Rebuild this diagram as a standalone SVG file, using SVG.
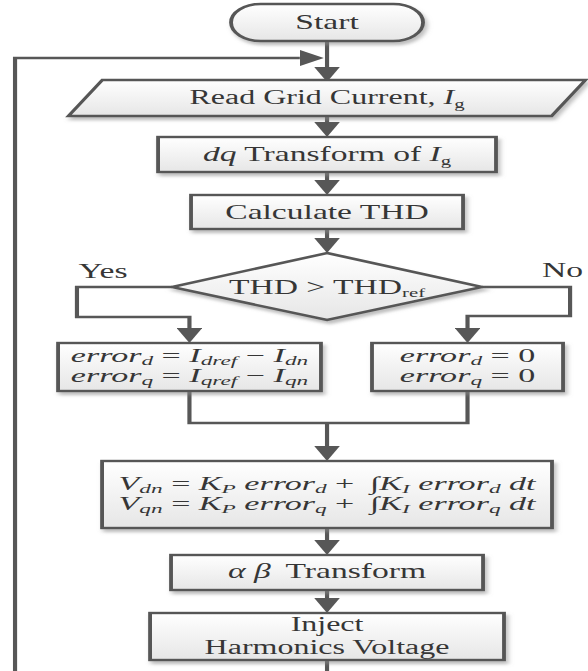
<svg xmlns="http://www.w3.org/2000/svg" width="588" height="671" viewBox="0 0 588 671">
  <style>
    .box { fill: url(#boxFill); stroke: #575757; stroke-width: 2.4; filter: url(#shadow); }
    .wire { fill: none; stroke: #575757; stroke-width: 2.6; }
    .arrow { marker-end: url(#head); }
    text { font-family: "Liberation Serif", "Times New Roman", serif; font-size: 21px; fill: #363636; text-anchor: middle; }
    .math { font-size: 19px; }
    .it { font-style: italic; }
    .sub { font-size: 13px; }
  </style>
  <defs>
    <linearGradient id="boxFill" x1="0" y1="0" x2="0" y2="1">
      <stop offset="0" stop-color="#ffffff"/>
      <stop offset="1" stop-color="#e6e6e6"/>
    </linearGradient>
    <filter id="shadow" x="-10%" y="-15%" width="125%" height="145%">
      <feDropShadow dx="1.6" dy="3" stdDeviation="1.5" flood-color="#8a8a8a" flood-opacity="0.55"/>
    </filter>
    <marker id="head" viewBox="0 0 15 16" refX="0" refY="8" markerWidth="15" markerHeight="16" markerUnits="userSpaceOnUse" orient="auto">
      <path d="M0,0 L15,8 L0,16 z" fill="#575757"/>
    </marker>
  </defs>

  <rect width="588" height="671" fill="#ffffff"/>

  <!-- drawing is laid out in a horizontally compressed frame, widened by 1.6 -->
  <g transform="scale(1.6 1)">

    <g id="connectors">
      <path class="wire arrow" d="M9.4,671 V58 H187.4"/>
      <path class="wire arrow" d="M204.4,40 V67"/>
      <path class="wire arrow" d="M204.4,116 V122"/>
      <path class="wire arrow" d="M204.4,172 V180"/>
      <path class="wire arrow" d="M204.4,229 V238"/>
      <path class="wire arrow" d="M107.4,287 H48.1 V317 H118.4 V328"/>
      <path class="wire arrow" d="M301.4,287 H356.3 V316 H292.2 V328"/>
      <path class="wire" d="M118.4,391 V423 H292.2 V391"/>
      <path class="wire arrow" d="M204.4,423 V446"/>
      <path class="wire arrow" d="M204.4,528 V540"/>
      <path class="wire arrow" d="M204.4,590 V598"/>
      <path class="wire" d="M204.4,660 V671"/>
    </g>

    <g id="start">
      <rect class="box" x="144.4" y="4" width="120" height="37" rx="18.5" ry="18.5"/>
      <text x="204.4" y="29">Start</text>
    </g>

    <g id="read-current">
      <polygon class="box" points="64,80 365.9,80 344.7,116 42.8,116"/>
      <text x="204.4" y="104" style="font-size:20px">Read Grid Current, <tspan class="it">I</tspan><tspan class="sub" dy="4">g</tspan></text>
    </g>

    <g id="dq-transform">
      <rect class="box" x="98.8" y="137" width="211.2" height="35"/>
      <text x="204.4" y="161"><tspan class="it">dq</tspan> Transform of <tspan class="it">I</tspan><tspan class="sub" dy="4">g</tspan></text>
    </g>

    <g id="calc-thd">
      <rect class="box" x="119.4" y="195" width="170" height="34"/>
      <text x="204.4" y="219">Calculate THD</text>
    </g>

    <g id="thd-check">
      <polygon class="box" points="204.4,253 301.4,287 204.4,320 107.4,287"/>
      <text x="204.4" y="294">THD &gt; THD<tspan class="sub" dy="3">ref</tspan></text>
      <text x="64.4" y="278">Yes</text>
      <text x="351.6" y="277">No</text>
    </g>

    <g id="error-pi">
      <rect class="box" x="36.3" y="343" width="164.3" height="48"/>
      <text class="math" transform="translate(118.45 0) scale(1.12 1)" x="0" y="362"><tspan class="it">error</tspan><tspan class="sub it" dy="3">d</tspan><tspan dy="-3"> = </tspan><tspan class="it">I</tspan><tspan class="sub it" dy="3">dref</tspan><tspan dy="-3"> − </tspan><tspan class="it">I</tspan><tspan class="sub it" dy="3">dn</tspan></text>
      <text class="math" transform="translate(118.45 0) scale(1.12 1)" x="0" y="382"><tspan class="it">error</tspan><tspan class="sub it" dy="3">q</tspan><tspan dy="-3"> = </tspan><tspan class="it">I</tspan><tspan class="sub it" dy="3">qref</tspan><tspan dy="-3"> − </tspan><tspan class="it">I</tspan><tspan class="sub it" dy="3">qn</tspan></text>
    </g>

    <g id="error-zero">
      <rect class="box" x="232.5" y="343" width="119.4" height="48"/>
      <text class="math" transform="translate(292.2 0) scale(1.12 1)" x="0" y="362"><tspan class="it">error</tspan><tspan class="sub it" dy="3">d</tspan><tspan dy="-3"> = 0</tspan></text>
      <text class="math" transform="translate(292.2 0) scale(1.12 1)" x="0" y="382"><tspan class="it">error</tspan><tspan class="sub it" dy="3">q</tspan><tspan dy="-3"> = 0</tspan></text>
    </g>

    <g id="pi-voltage">
      <rect class="box" x="63.8" y="461" width="281.2" height="67"/>
      <text class="math" transform="translate(204.4 0) scale(1.12 1)" x="0" y="490"><tspan class="it">V</tspan><tspan class="sub it" dy="3">dn</tspan><tspan dy="-3"> = </tspan><tspan class="it">K</tspan><tspan class="sub it" dy="3">P</tspan><tspan class="it" dy="-3"> error</tspan><tspan class="sub it" dy="3">d</tspan><tspan dy="-3"> + </tspan><tspan dx="4">∫</tspan><tspan class="it">K</tspan><tspan class="sub it" dy="3">I</tspan><tspan class="it" dy="-3"> error</tspan><tspan class="sub it" dy="3">d</tspan><tspan class="it" dy="-3"> dt</tspan></text>
      <text class="math" transform="translate(204.4 0) scale(1.12 1)" x="0" y="510"><tspan class="it">V</tspan><tspan class="sub it" dy="3">qn</tspan><tspan dy="-3"> = </tspan><tspan class="it">K</tspan><tspan class="sub it" dy="3">P</tspan><tspan class="it" dy="-3"> error</tspan><tspan class="sub it" dy="3">q</tspan><tspan dy="-3"> + </tspan><tspan dx="4">∫</tspan><tspan class="it">K</tspan><tspan class="sub it" dy="3">I</tspan><tspan class="it" dy="-3"> error</tspan><tspan class="sub it" dy="3">q</tspan><tspan class="it" dy="-3"> dt</tspan></text>
    </g>

    <g id="ab-transform">
      <rect class="box" x="106.9" y="555" width="195" height="35"/>
      <text x="204.4" y="578"><tspan class="it">α β</tspan><tspan dx="4"> Transform</tspan></text>
    </g>

    <g id="inject">
      <rect class="box" x="93.8" y="613" width="221.2" height="47"/>
      <text x="204.4" y="631" style="font-size:20px">Inject</text>
      <text x="204.4" y="654" style="font-size:20px">Harmonics Voltage</text>
    </g>
  </g>
</svg>
